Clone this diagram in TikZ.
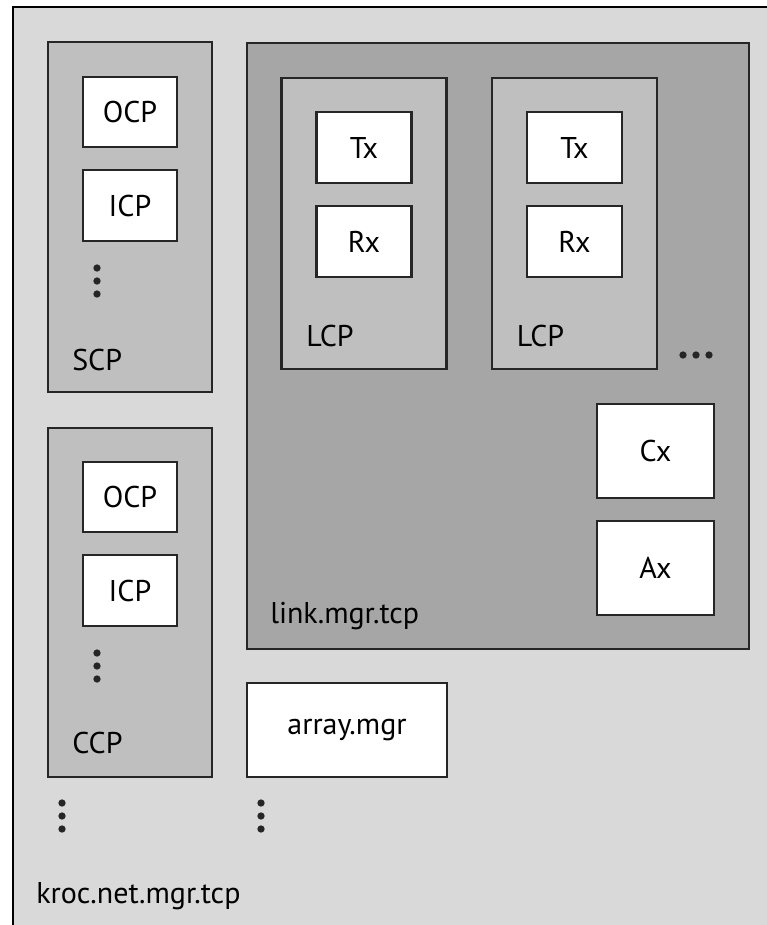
\documentclass[tikz,border=0pt]{standalone}
\usepackage{fontspec}
\setmainfont{PT Sans}
\usepackage{tikz}
\usetikzlibrary{positioning}
\definecolor{bglight}{HTML}{D9D9D9}
\definecolor{procgray}{HTML}{BFBFBF}
\definecolor{linkgray}{HTML}{A6A6A6}

\begin{document}
\begin{tikzpicture}[x=0.75pt, y=-0.75pt, font=\fontsize{22.5}{27}\selectfont,
    frame/.style={draw=black!85, line width=2pt, inner sep=0pt},
    leaf/.style={frame, fill=white},
    group/.style={frame, fill=procgray},
    tag/.style={anchor=base west, inner sep=0pt},
    dot/.style={circle, fill=black!85, inner sep=0pt, minimum size=5.5pt}]
  \useasboundingbox (0,0) rectangle (767,925);
  \clip (0,0) rectangle (767,925);
  % outer process
  \draw[fill=bglight, line width=2.2pt] (13,7) rectangle (800,960);
  \node[tag] (kroclbl) at (36,903) {kroc.net.mgr.tcp};

  % server and client control processes
  \node[group, minimum width=164*0.75pt, minimum height=350*0.75pt] (scp) at (130,217) {};
  \node[leaf, minimum width=94*0.75pt, minimum height=70*0.75pt] (socp) at (130,112) {OCP};
  \node[leaf, minimum width=94*0.75pt, minimum height=71*0.75pt] (sicp) at (130,205.5) {ICP};
  \node[tag] (scplbl) at (72,370) {SCP};
  \node[group, minimum width=164*0.75pt, minimum height=349*0.75pt] (ccp) at (130,602.5) {};
  \node[leaf, minimum width=94*0.75pt, minimum height=70*0.75pt] (cocp) at (130,497) {OCP};
  \node[leaf, minimum width=94*0.75pt, minimum height=71*0.75pt] (cicp) at (130,590.5) {ICP};
  \node[tag] (ccplbl) at (72,753) {CCP};
  \foreach \y in {268,281,294} \node[dot] at (97,\y) {};
  \foreach \y in {653,666,679} \node[dot] at (97,\y) {};
  \foreach \y in {803,816,829} {
    \node[dot] at (62,\y) {};
    \node[dot] at (261,\y) {};
  }

  % link manager
  \node[frame, fill=linkgray, minimum width=502*0.75pt, minimum height=606*0.75pt] (link) at (498,346) {};
  \node[tag] (linklbl) at (270,623) {link.mgr.tcp};
  \foreach \x/\n in {364/1,574.5/2} {
    \node[group, minimum width=165*0.75pt, minimum height=291*0.75pt] (lcp\n) at (\x,223.5) {};
    \node[leaf, minimum width=95*0.75pt, minimum height=71*0.75pt] (tx\n) at (\x,147.5) {Tx};
    \node[leaf, minimum width=95*0.75pt, minimum height=71*0.75pt] (rx\n) at (\x,241.5) {Rx};
    \node[tag] (lcplbl\n) at (\x-58,346) {LCP};
  }
  \foreach \x in {683,696,709} \node[dot] at (\x,355) {};
  \node[leaf, minimum width=117*0.75pt, minimum height=94*0.75pt] (cx) at (655.5,451) {Cx};
  \node[leaf, minimum width=117*0.75pt, minimum height=94*0.75pt] (ax) at (655.5,568) {Ax};

  % array manager
  \node[leaf, minimum width=200*0.75pt, minimum height=94*0.75pt] (arr) at (347,730) {array.mgr};
\end{tikzpicture}
\end{document}
